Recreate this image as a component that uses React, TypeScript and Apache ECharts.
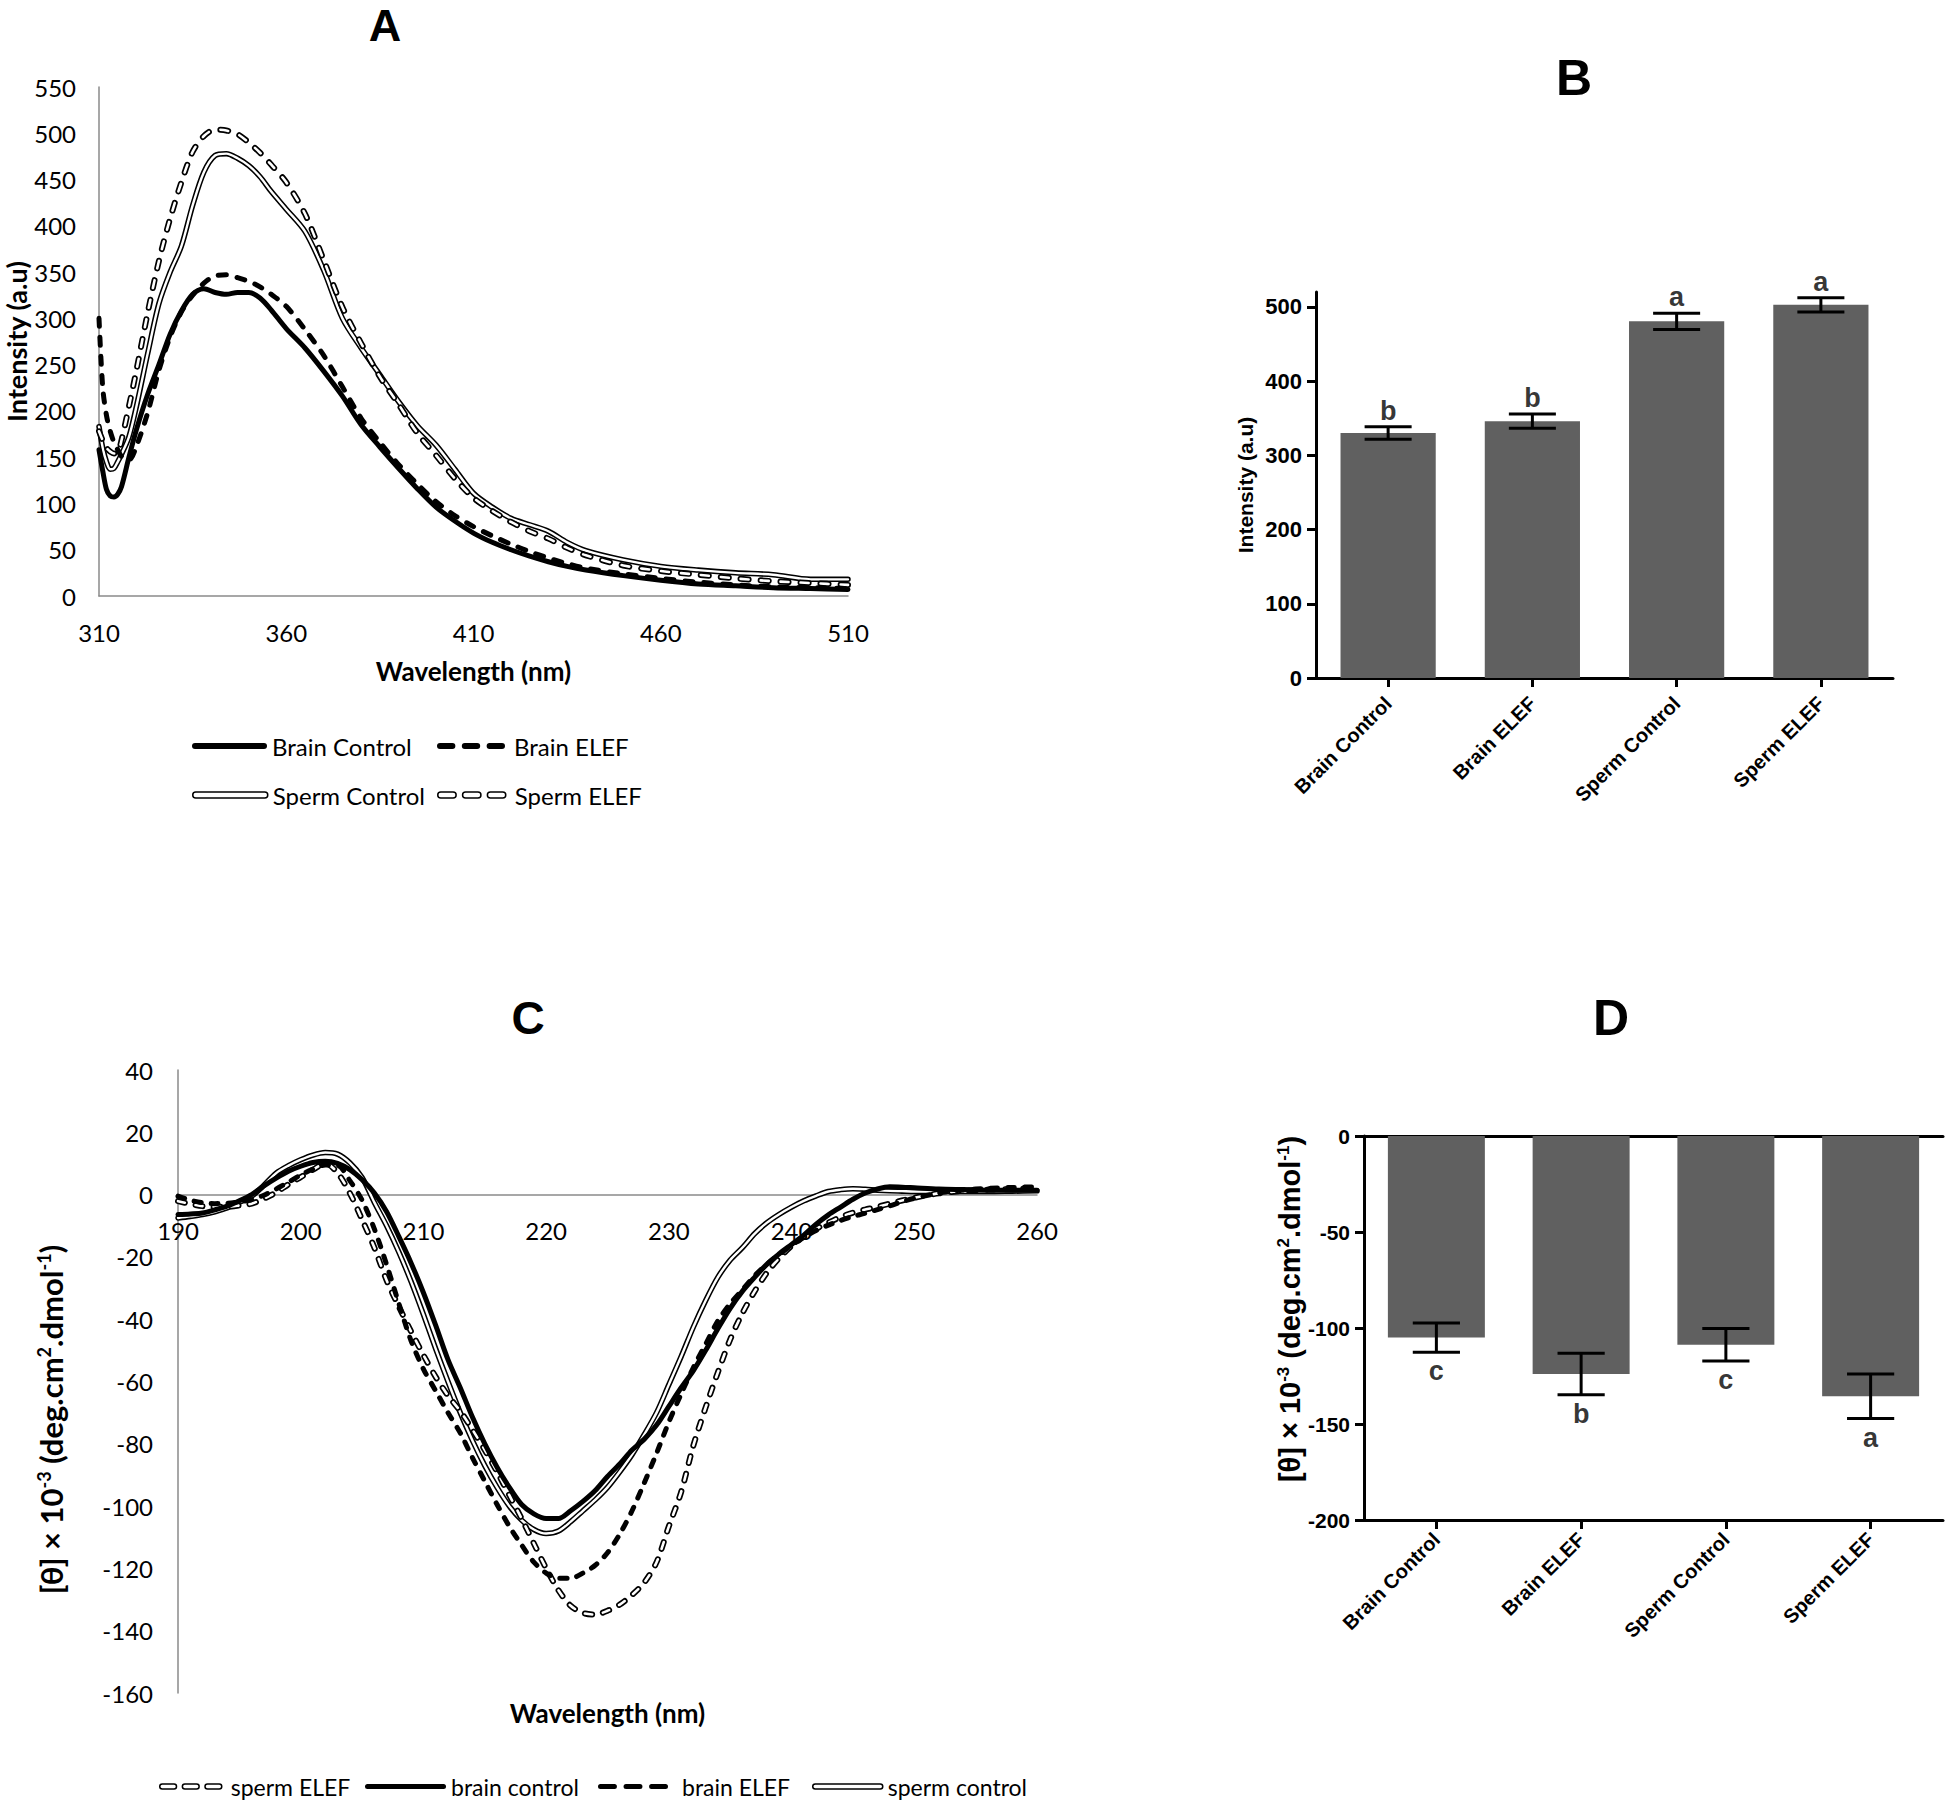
import React, { useEffect, useRef } from "react";
import * as echarts from "echarts";

// ---------- Panel A: fluorescence spectra ----------
const wavelengthA = [310, 311, 312, 313, 314, 315, 316, 318, 320, 323, 326, 329, 332, 335, 338, 341, 344, 347, 350, 353, 356, 360, 365, 370, 375, 380, 385, 390, 395, 400, 405, 410, 415, 420, 425, 430, 435, 440, 450, 460, 470, 480, 490, 500, 510];
const brainControlA = [158, 135, 115, 108, 107, 110, 118, 150, 180, 218, 250, 283, 308, 326, 332, 328, 326, 328, 328, 322, 309, 289, 268, 243, 216, 185, 161, 138, 116, 96, 81, 68, 58, 50, 43, 37, 32, 28, 22, 17, 13, 11, 9, 8, 7];
const brainElefA = [300, 225, 195, 178, 166, 158, 151, 147, 162, 198, 244, 280, 307, 325, 338, 346, 347, 344, 340, 334, 326, 313, 288, 260, 226, 192, 166, 142, 121, 102, 87, 75, 65, 56, 48, 41, 35, 30, 24, 19, 15, 12, 10, 9, 8];
const spermControlA = [183, 160, 145, 137, 138, 145, 153, 172, 205, 262, 316, 350, 378, 422, 458, 476, 478, 473, 465, 453, 437, 418, 394, 352, 300, 268, 239, 210, 184, 163, 137, 111, 96, 84, 77, 70, 58, 49, 39, 32, 28, 25, 23, 18, 18];
const spermElefA = [178, 168, 160, 156, 154, 155, 168, 205, 244, 306, 362, 408, 447, 480, 497, 504, 503, 499, 490, 479, 466, 447, 413, 363, 312, 273, 237, 207, 176, 152, 127, 106, 92, 80, 70, 62, 52, 44, 33, 27, 23, 19, 16, 14, 12];

// ---------- Panel C: circular dichroism spectra ----------
const wavelengthC = [190, 191, 192, 193, 194, 195, 196, 197, 198, 199, 200, 201, 202, 203, 204, 205, 206, 207, 208, 209, 210, 211, 212, 213, 214, 215, 216, 217, 218, 219, 220, 221, 222, 223, 224, 225, 226, 227, 228, 229, 230, 231, 232, 233, 234, 235, 236, 237, 238, 239, 240, 241, 242, 243, 244, 245, 246, 247, 248, 249, 250, 252, 254, 256, 258, 260];
const brainControlC = [-6.4, -6.2, -5.9, -4.9, -3.7, -2, 0, 2.8, 5.3, 7.5, 9.1, 10.3, 10.7, 10, 8, 4.8, 0.5, -5.5, -13.5, -22, -31.5, -42, -53, -62, -71.5, -80, -87.5, -94, -99.5, -102.5, -104, -104, -101.5, -98.5, -95, -90.5, -86.5, -82, -78.5, -74, -68, -62, -56.5, -50, -43, -36.5, -31, -26.5, -22.3, -19, -16, -13, -9.5, -6.5, -4, -1.5, 0.5, 1.8, 2.5, 2.4, 2.2, 1.8, 1.6, 1.4, 1.4, 1.4];
const spermControlC = [-7.5, -7, -6.4, -5.5, -4.3, -2.5, -0.5, 3, 6.9, 9.3, 11.2, 12.7, 13.5, 13, 10.2, 5.5, -2.5, -10, -18.5, -28, -38.5, -49.5, -60, -70, -79, -87, -94, -100, -104.5, -107.5, -108.8, -108, -105, -101.5, -98, -94, -89, -83.5, -77, -70, -61, -52, -42.5, -34, -26.5, -21, -17, -12.5, -9, -6.3, -4, -2, -0.4, 1, 1.6, 1.9, 1.7, 1.4, 1.2, 1.1, 1, 1, 1, 1, 1.1, 1.2];
const brainElefC = [-0.5, -1.8, -2.6, -2.9, -2.8, -2.3, -1.6, -0.2, 1.8, 4, 6.3, 8.2, 9.5, 9.4, 4.5, -1.8, -11, -22.5, -35, -47, -56, -63, -70, -76.5, -84.5, -92, -99.5, -106.5, -112.5, -118, -121.5, -123.2, -123.2, -121.5, -119, -115, -109, -101.5, -92.5, -83, -73, -64, -55.5, -48, -40.5, -35, -30.5, -26, -22.3, -19.2, -16.3, -13.7, -11.5, -9.8, -8.3, -7, -6, -4.8, -3.6, -2.3, -1.2, 0.5, 1.5, 2, 2.3, 2.5];
const spermElefC = [-2.1, -3, -3.7, -3.9, -3.9, -3.5, -2.9, -1.3, 0.7, 3.3, 5.6, 8, 10, 7, 0.5, -8, -17, -27.5, -36, -44, -51.5, -58.5, -64.5, -69.5, -75.5, -82, -89, -96.5, -104, -112, -120, -127, -132, -134.3, -134.8, -133.6, -131.6, -128.5, -124.5, -118, -106.5, -95.5, -80.5, -68.3, -57, -46.5, -38, -31, -25, -20.3, -16.5, -13.5, -11, -9, -7.2, -5.8, -4.8, -3.9, -2.9, -1.9, -1, 0.4, 1.2, 1.6, 1.8, 2];

// ---------- Panels B and D: group means ----------
const groups = ["Brain Control", "Brain ELEF", "Sperm Control", "Sperm ELEF"];
const intensityMean = [330, 346, 480.5, 502.7];
const intensityErr = [8.5, 9.5, 11, 9.7];
const intensityLetters = ["b", "b", "a", "a"];
const intensityTicks = [0, 100, 200, 300, 400, 500];
const ellipticityMean = [-105, -124, -108.7, -135.6];
const ellipticityErr = [7.6, 10.8, 8.5, 11.6];
const ellipticityLetters = ["c", "b", "c", "a"];

// ---------- helpers (style only) ----------
const pill = (w: number, h: number) => {
  const r = h / 2;
  return `path://M${r},0H${w - r}A${r},${r},0,0,1,${w - r},${h}H${r}A${r},${r},0,0,1,${r},0Z`;
};
const dashes = (w: number, h: number, n: number, gapRatio = 0.35) => {
  const r = h / 2;
  const d = w / (n + (n - 1) * gapRatio);
  const g = d * gapRatio;
  let p = "";
  for (let i = 0; i < n; i++) {
    const x0 = i * (d + g);
    const x1 = x0 + d;
    p += `M${x0 + r},0H${x1 - r}A${r},${r},0,0,1,${x1 - r},${h}H${x0 + r}A${r},${r},0,0,1,${x0 + r},0Z`;
  }
  return "path://" + p;
};

type Kind = "solid" | "dashed" | "double" | "doubleDashed";
const lineSeries = (name: string, xs: number[], ys: number[], axis: number, kind: Kind, dash: number[]) => {
  const data = xs.map((x, i) => [x, ys[i]]);
  const base: any = {
    type: "line",
    name,
    data,
    xAxisIndex: axis,
    yAxisIndex: axis,
    symbol: "none",
    showSymbol: false,
    smooth: 0.3,
    silent: true,
    emphasis: { disabled: true },
  };
  if (kind === "solid") return [{ ...base, lineStyle: { color: "#000", width: 5, cap: "round", join: "round" } }];
  if (kind === "dashed") return [{ ...base, lineStyle: { color: "#000", width: 5, type: dash, cap: "round", join: "round" } }];
  if (kind === "double")
    return [
      { ...base, lineStyle: { color: "#000", width: 5.5, cap: "round", join: "round" } },
      { ...base, lineStyle: { color: "#fff", width: 2.4, cap: "round", join: "round" } },
    ];
  return [
    { ...base, lineStyle: { color: "#000", width: 6, type: dash, cap: "round", join: "round" } },
    { ...base, lineStyle: { color: "#fff", width: 2.6, type: dash, cap: "round", join: "round" } },
  ];
};

const errorRender = (params: any, api: any) => {
  const i = api.value(0);
  const hi = api.coord([i, api.value(1)]);
  const lo = api.coord([i, api.value(2)]);
  const half = api.size([1, 0])[0] * 0.163;
  const style = { stroke: "#000", lineWidth: 3 };
  return {
    type: "group",
    children: [
      { type: "line", shape: { x1: hi[0], y1: hi[1], x2: lo[0], y2: lo[1] }, style },
      { type: "line", shape: { x1: hi[0] - half, y1: hi[1], x2: hi[0] + half, y2: hi[1] }, style },
      { type: "line", shape: { x1: lo[0] - half, y1: lo[1], x2: lo[0] + half, y2: lo[1] }, style },
    ],
  };
};

const CAL = "Lato";
const ARIAL = "Liberation Sans";
const GRAY = "#8a8a8a";

const legendItem = (name: string, icon: string, fill: string, border: number, left: number, top: number, w: number, h: number, fontSize: number, pad: number) => ({
  data: [{ name, icon, itemStyle: { color: fill, borderColor: "#000", borderWidth: border } }],
  left,
  top,
  padding: 0,
  itemWidth: w,
  itemHeight: h,
  selectedMode: false,
  textStyle: { fontFamily: CAL, fontSize, color: "#000", padding: [0, 0, 0, pad] },
});

const supRich = (family: string, size: number) => ({
  sup: { fontFamily: family, fontWeight: "bold", fontSize: size, verticalAlign: "top", color: "#000", lineHeight: size },
});

// C panel: the wavelength axis sits on the zero line of the ellipticity axis
const gridC = { left: 178, top: 1070, width: 859, height: 623 };
const cMin = -160;
const cMax = 40;
const cZeroOffset = -(gridC.height * (0 - cMin)) / (cMax - cMin);

const buildOption = (): any => ({
  animation: false,
  backgroundColor: "#fff",
  title: [
    { text: "A", left: 385, top: 3, textAlign: "center", padding: 0, textStyle: { fontFamily: ARIAL, fontWeight: "bold", fontSize: 45, color: "#000" } },
    { text: "B", left: 1574, top: 53, textAlign: "center", padding: 0, textStyle: { fontFamily: ARIAL, fontWeight: "bold", fontSize: 50, color: "#000" } },
    { text: "C", left: 528, top: 995, textAlign: "center", padding: 0, textStyle: { fontFamily: ARIAL, fontWeight: "bold", fontSize: 46, color: "#000" } },
    { text: "D", left: 1611, top: 993, textAlign: "center", padding: 0, textStyle: { fontFamily: ARIAL, fontWeight: "bold", fontSize: 50, color: "#000" } },
  ],
  legend: [
    legendItem("Brain Control", pill(75, 6), "#000", 0, 192, 734, 75, 6, 24, 0),
    legendItem("Brain ELEF", dashes(68, 6, 3), "#000", 0, 437, 734, 68, 6, 24, 4),
    legendItem("Sperm Control", pill(75, 6), "#fff", 1.5, 192, 783, 75, 6, 24, 0),
    legendItem("Sperm ELEF", dashes(68, 6, 3), "#fff", 1.5, 437, 783, 68, 6, 24, 4),
    legendItem("sperm ELEF", dashes(62, 5, 3), "#fff", 1.5, 159, 1775, 62, 5, 23, 4),
    legendItem("brain control", pill(81, 5), "#000", 0, 365, 1775, 81, 5, 23, 0),
    legendItem("brain ELEF", dashes(70, 5, 3), "#000", 0, 598, 1775, 70, 5, 23, 9),
    legendItem("sperm control", pill(70, 5), "#fff", 1.5, 812, 1775, 70, 5, 23, 0),
  ],
  grid: [
    { left: 99, top: 87, width: 749, height: 509, outerBoundsMode: "none" },
    { left: 1316, top: 292, width: 577, height: 386, outerBoundsMode: "none" },
    { ...gridC, outerBoundsMode: "none" },
    { left: 1364, top: 1136, width: 579, height: 384, outerBoundsMode: "none" },
  ],
  xAxis: [
    {
      type: "value", gridIndex: 0, min: 310, max: 510, interval: 50,
      axisLine: { show: true, lineStyle: { color: GRAY, width: 1.5 } },
      axisTick: { show: false }, splitLine: { show: false },
      axisLabel: { fontFamily: CAL, fontSize: 24, color: "#000", margin: 24 },
      name: "Wavelength (nm)", nameLocation: "middle", nameGap: 62,
      nameTextStyle: { fontFamily: CAL, fontSize: 26, fontWeight: "bold", color: "#000" },
    },
    {
      type: "category", gridIndex: 1, data: groups,
      axisLine: { show: true, lineStyle: { color: "#000", width: 3 } },
      axisTick: { show: true, alignWithLabel: true, length: 9, lineStyle: { color: "#000", width: 3 } },
      axisLabel: { interval: 0, rotate: 45, fontFamily: ARIAL, fontWeight: "bold", fontSize: 20, color: "#000", margin: 22 },
    },
    {
      type: "value", gridIndex: 2, min: 190, max: 260, interval: 10, position: "bottom", offset: cZeroOffset,
      axisLine: { show: true, onZero: false, lineStyle: { color: GRAY, width: 1.5 } },
      axisTick: { show: false }, splitLine: { show: false },
      axisLabel: { fontFamily: CAL, fontSize: 24, color: "#000", margin: 24 },
      name: "Wavelength (nm)", nameLocation: "middle", nameGap: 505,
      nameTextStyle: { fontFamily: CAL, fontSize: 26, fontWeight: "bold", color: "#000" },
    },
    {
      type: "category", gridIndex: 3, data: groups, position: "bottom",
      axisLine: { show: true, onZero: false, lineStyle: { color: "#000", width: 3 } },
      axisTick: { show: true, alignWithLabel: true, length: 9, lineStyle: { color: "#000", width: 3 } },
      axisLabel: { interval: 0, rotate: 45, fontFamily: ARIAL, fontWeight: "bold", fontSize: 20, color: "#000", margin: 16 },
    },
    {
      type: "category", gridIndex: 3, data: groups, position: "top",
      axisLine: { show: true, onZero: false, lineStyle: { color: "#000", width: 3 } },
      axisTick: { show: false }, axisLabel: { show: false },
    },
  ],
  yAxis: [
    {
      type: "value", gridIndex: 0, min: 0, max: 550, interval: 50,
      axisLine: { show: true, lineStyle: { color: GRAY, width: 1.5 } },
      axisTick: { show: false }, splitLine: { show: false },
      axisLabel: { fontFamily: CAL, fontSize: 24, color: "#000", margin: 23 },
      name: "Intensity (a.u)", nameLocation: "middle", nameRotate: 90, nameGap: 69,
      nameTextStyle: { fontFamily: CAL, fontSize: 27, fontWeight: "bold", color: "#000" },
    },
    {
      type: "value", gridIndex: 1, min: 0, max: 520,
      axisLine: { show: true, lineStyle: { color: "#000", width: 3 } },
      axisTick: { show: true, length: 9, lineStyle: { color: "#000", width: 3 }, customValues: intensityTicks },
      splitLine: { show: false },
      axisLabel: { customValues: intensityTicks, fontFamily: ARIAL, fontWeight: "bold", fontSize: 22, color: "#000", margin: 14 },
      name: "Intensity (a.u)", nameLocation: "middle", nameRotate: 90, nameGap: 60,
      nameTextStyle: { fontFamily: ARIAL, fontSize: 21, fontWeight: "bold", color: "#000" },
    },
    {
      type: "value", gridIndex: 2, min: cMin, max: cMax, interval: 20,
      axisLine: { show: true, onZero: false, lineStyle: { color: GRAY, width: 1.5 } },
      axisTick: { show: false }, splitLine: { show: false },
      axisLabel: { fontFamily: CAL, fontSize: 24, color: "#000", margin: 25 },
      name: "[θ] × 10{sup|-3} (deg.cm{sup|2}.dmol{sup|-1})", nameLocation: "middle", nameRotate: 90, nameGap: 112,
      nameTextStyle: { fontFamily: CAL, fontSize: 31, fontWeight: "bold", color: "#000", padding: [0, 76, 0, 0], rich: supRich(CAL, 18) },
    },
    {
      type: "value", gridIndex: 3, min: -200, max: 0, interval: 50,
      axisLine: { show: true, lineStyle: { color: "#000", width: 3 } },
      axisTick: { show: true, length: 9, lineStyle: { color: "#000", width: 3 } },
      splitLine: { show: false },
      axisLabel: { fontFamily: ARIAL, fontWeight: "bold", fontSize: 21, color: "#000", margin: 14 },
      name: "[θ] × 10{sup|-3} (deg.cm{sup|2}.dmol{sup|-1})", nameLocation: "middle", nameRotate: 90, nameGap: 55,
      nameTextStyle: { fontFamily: ARIAL, fontSize: 29, fontWeight: "bold", color: "#000", padding: [0, 0, 0, 38], rich: supRich(ARIAL, 17) },
    },
  ],
  series: [
    ...lineSeries("Sperm Control", wavelengthA, spermControlA, 0, "double", []),
    ...lineSeries("Sperm ELEF", wavelengthA, spermElefA, 0, "doubleDashed", [8, 12]),
    ...lineSeries("Brain ELEF", wavelengthA, brainElefA, 0, "dashed", [8, 11]),
    ...lineSeries("Brain Control", wavelengthA, brainControlA, 0, "solid", []),

    ...lineSeries("sperm control", wavelengthC, spermControlC, 2, "double", []),
    ...lineSeries("sperm ELEF", wavelengthC, spermElefC, 2, "doubleDashed", [7, 11]),
    ...lineSeries("brain ELEF", wavelengthC, brainElefC, 2, "dashed", [7, 10]),
    ...lineSeries("brain control", wavelengthC, brainControlC, 2, "solid", []),

    {
      type: "bar", name: "Intensity", xAxisIndex: 1, yAxisIndex: 1, data: intensityMean, barWidth: "66%",
      itemStyle: { color: "#606060" }, silent: true,
    },
    {
      type: "custom", name: "Intensity SEM", xAxisIndex: 1, yAxisIndex: 1, renderItem: errorRender,
      data: intensityMean.map((m, i) => [i, m + intensityErr[i], m - intensityErr[i]]), encode: { x: 0, y: [1, 2] }, z: 5, silent: true,
    },
    {
      type: "scatter", name: "Intensity letters", xAxisIndex: 1, yAxisIndex: 1, symbolSize: 1, itemStyle: { color: "rgba(0,0,0,0)" },
      data: intensityMean.map((m, i) => [i, m + intensityErr[i]]), silent: true,
      label: { show: true, position: "top", distance: 2, formatter: (p: any) => intensityLetters[p.dataIndex], fontFamily: ARIAL, fontWeight: "bold", fontSize: 27, color: "#000" },
    },
    {
      type: "bar", name: "Ellipticity", xAxisIndex: 3, yAxisIndex: 3, data: ellipticityMean, barWidth: "67%",
      itemStyle: { color: "#606060" }, silent: true,
    },
    {
      type: "custom", name: "Ellipticity SEM", xAxisIndex: 3, yAxisIndex: 3, renderItem: errorRender,
      data: ellipticityMean.map((m, i) => [i, m + ellipticityErr[i], m - ellipticityErr[i]]), encode: { x: 0, y: [1, 2] }, z: 5, silent: true,
    },
    {
      type: "scatter", name: "Ellipticity letters", xAxisIndex: 3, yAxisIndex: 3, symbolSize: 1, itemStyle: { color: "rgba(0,0,0,0)" },
      data: ellipticityMean.map((m, i) => [i, m - ellipticityErr[i]]), silent: true,
      label: { show: true, position: "bottom", distance: 5, formatter: (p: any) => ellipticityLetters[p.dataIndex], fontFamily: ARIAL, fontWeight: "bold", fontSize: 27, color: "#000" },
    },
  ],
});

export default function App() {
  const ref = useRef<HTMLDivElement>(null);
  useEffect(() => {
    if (!ref.current) return;
    const chart = echarts.init(ref.current, undefined, { renderer: "svg" });
    chart.setOption(buildOption());
    return () => chart.dispose();
  }, []);
  return (
    <div
      ref={ref}
      style={{ position: "fixed", left: 0, top: 0, width: 1946, height: 1802, background: "#fff" }}
    />
  );
}
